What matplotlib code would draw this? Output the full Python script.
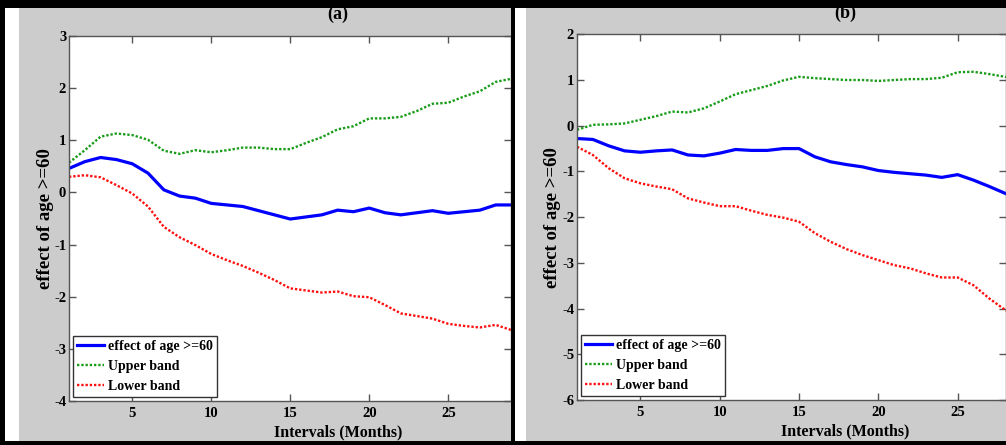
import matplotlib
matplotlib.use('Agg')
import matplotlib.pyplot as plt
from matplotlib.patches import Rectangle

# Data (interval index 1..29)
months = list(range(1, 30))

effect_a = [0.46, 0.59, 0.67, 0.63, 0.55, 0.37, 0.05, -0.07, -0.11, -0.21,
            -0.24, -0.27, -0.35, -0.43, -0.51, -0.47, -0.43, -0.34, -0.37, -0.30,
            -0.39, -0.43, -0.39, -0.35, -0.40, -0.37, -0.34, -0.24, -0.24]
upper_a = [0.57, 0.81, 1.07, 1.13, 1.10, 1.01, 0.80, 0.74, 0.81, 0.77,
           0.81, 0.86, 0.86, 0.83, 0.83, 0.95, 1.06, 1.21, 1.27, 1.42,
           1.42, 1.45, 1.56, 1.70, 1.72, 1.84, 1.94, 2.12, 2.18]
lower_a = [0.30, 0.33, 0.29, 0.14, -0.02, -0.27, -0.66, -0.86, -1.01, -1.18,
           -1.30, -1.41, -1.54, -1.68, -1.84, -1.88, -1.92, -1.90, -1.99, -2.01,
           -2.16, -2.32, -2.37, -2.42, -2.52, -2.56, -2.59, -2.54, -2.64]

effect_b = [-0.28, -0.30, -0.44, -0.55, -0.58, -0.55, -0.53, -0.64, -0.66, -0.60,
            -0.52, -0.54, -0.54, -0.50, -0.50, -0.68, -0.79, -0.85, -0.90, -0.98,
            -1.02, -1.05, -1.08, -1.13, -1.07, -1.19, -1.33, -1.48, -1.62]
upper_b = [-0.09, 0.02, 0.03, 0.05, 0.13, 0.21, 0.31, 0.29, 0.38, 0.53,
           0.69, 0.78, 0.87, 0.99, 1.07, 1.04, 1.02, 1.00, 1.00, 0.98,
           1.00, 1.02, 1.02, 1.05, 1.17, 1.18, 1.13, 1.07, 1.02]
lower_b = [-0.46, -0.64, -0.93, -1.15, -1.26, -1.33, -1.39, -1.59, -1.68, -1.76,
           -1.76, -1.86, -1.95, -2.01, -2.10, -2.35, -2.54, -2.70, -2.83, -2.94,
           -3.05, -3.12, -3.23, -3.32, -3.32, -3.49, -3.78, -4.03, -4.25]

labels = ['effect of age >=60', 'Upper band', 'Lower band']
GREY = '#cccccc'
SPINE = '#555555'

plt.rcParams['font.family'] = ['Liberation Serif', 'DejaVu Serif']
plt.rcParams['font.weight'] = 'bold'
plt.rcParams['axes.unicode_minus'] = False


def draw_panel(ax, title, effect, upper, lower, xmax, ylim, yticks, title_x, ylab_x):
    ax.plot(months, effect, color='#0000ff', linewidth=2.3, label=labels[0])
    ax.plot(months, upper, color='#1a9c1a', linewidth=1.7,
            linestyle=(0, (1, 0.8)), label=labels[1])
    ax.plot(months, lower, color='#ff1010', linewidth=1.7,
            linestyle=(0, (1, 0.8)), label=labels[2])

    ax.set_xlim(1, xmax)
    ax.set_ylim(*ylim)
    ax.set_xticks([5, 10, 15, 20, 25])
    ax.set_yticks(yticks)
    ax.tick_params(direction='in', length=5, width=1, color=SPINE,
                   top=True, right=True, labelsize=10.5)
    ax.tick_params(axis='x', pad=4)
    ax.tick_params(axis='y', pad=2)
    for s in ax.spines.values():
        s.set_color(SPINE)
        s.set_linewidth(1)

    ax.text(title_x, 1.058, title, transform=ax.transAxes, ha='center',
            va='center', fontsize=13, fontweight='bold')
    ax.set_xlabel('Intervals (Months)', fontsize=11.5, fontweight='bold')
    ax.xaxis.set_label_coords(title_x, -0.085)
    ax.xaxis.label.set_va('center')
    ax.set_ylabel('effect of age >=60', fontsize=13.5, fontweight='bold')
    ax.yaxis.set_label_coords(ylab_x, 0.5)
    ax.yaxis.label.set_va('center')

    leg = ax.legend(loc='lower left', bbox_to_anchor=(0.009, 0.011),
                    borderaxespad=0, fontsize=10, fancybox=False,
                    framealpha=1, edgecolor='#333333', handlelength=1.95,
                    handletextpad=0.3, borderpad=0.3, labelspacing=0.5)
    leg.get_frame().set_linewidth(1)


def main():
    W, H = 1006, 445
    fig = plt.figure(figsize=(W / 100, H / 100), dpi=100, facecolor='white')

    def px_rect(x0, y0, x1, y1, color, z):
        fig.add_artist(Rectangle((x0 / W, 1 - y1 / H), (x1 - x0) / W, (y1 - y0) / H,
                                 transform=fig.transFigure, facecolor=color,
                                 edgecolor='none', zorder=z))

    # grey figure backgrounds of the two panels
    px_rect(19, 8, 511, 441, GREY, -1)
    px_rect(526, 8, 1006, 441, GREY, -1)

    ax_a = fig.add_axes([69 / W, 1 - 401 / H, 442 / W, 365 / H])
    ax_b = fig.add_axes([577 / W, 1 - 400 / H, 429 / W, 365.7 / H])

    draw_panel(ax_a, '(a)', effect_a, upper_a, lower_a, 28.97, (-4, 3),
               range(-4, 4), 0.609, -0.053)
    draw_panel(ax_b, '(b)', effect_b, upper_b, lower_b, 28.05, (-6, 2),
               range(-6, 3), 0.625, -0.058)

    # black borders on top of everything
    px_rect(0, 0, W, 8, 'black', 5)
    px_rect(0, 441, W, H, 'black', 5)
    px_rect(0, 0, 5, H, 'black', 5)
    px_rect(511, 0, 515, H, 'black', 5)

    plt.savefig('out.png', dpi=100)


if __name__ == "__main__":
    main()
